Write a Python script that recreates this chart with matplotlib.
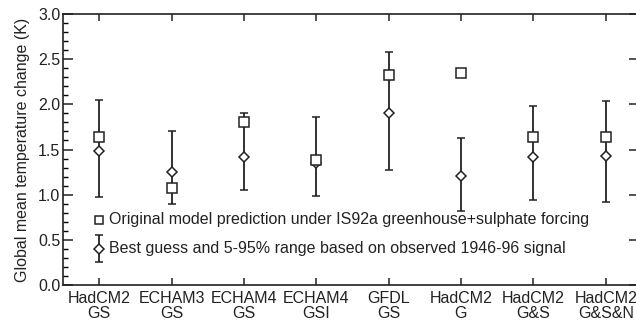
import numpy as np
import matplotlib.pyplot as plt
from matplotlib.ticker import MultipleLocator

plt.rcParams['font.family'] = ['Liberation Sans', 'DejaVu Sans']

# ── Data ──────────────────────────────────────────────────────
models = ['HadCM2\nGS', 'ECHAM3\nGS', 'ECHAM4\nGS', 'ECHAM4\nGSI',
          'GFDL\nGS', 'HadCM2\nG', 'HadCM2\nG&S', 'HadCM2\nG&S&N']
original = [1.64, 1.07, 1.80, 1.38, 2.32, 2.35, 1.64, 1.64]
best = [1.48, 1.25, 1.42, 1.35, 1.90, 1.21, 1.42, 1.43]
low = [0.97, 0.90, 1.05, 0.98, 1.27, 0.82, 0.94, 0.92]
high = [2.05, 1.70, 1.90, 1.86, 2.58, 1.63, 1.98, 2.04]

# legend key (drawn inside the axes, as in the original figure)
leg_x = 0
leg_sq_y = 0.72
leg_dm_y = 0.40
leg_dm_lo, leg_dm_hi = 0.25, 0.55

INK = '#222222'
FS = 11.5

x = np.arange(len(models))
best = np.array(best)
yerr = [best - np.array(low), np.array(high) - best]

fig = plt.figure(figsize=(6.36, 3.21), dpi=100)
ax = fig.add_axes([63 / 636, 1 - 285 / 321, 576 / 636, 271 / 321])

ax.errorbar(x, best, yerr=yerr, fmt='D', ms=5, mfc='white', mec=INK, mew=1.1,
            ecolor=INK, elinewidth=1.3, capsize=3, capthick=1.3, zorder=2)
ax.plot(x, original, 's', ms=7, mfc='white', mec=INK, mew=1.1, zorder=3)

# legend
ax.plot(leg_x, leg_sq_y, 's', ms=6, mfc='white', mec=INK, mew=1.1)
ax.errorbar(leg_x, leg_dm_y, yerr=[[leg_dm_y - leg_dm_lo], [leg_dm_hi - leg_dm_y]],
            fmt='D', ms=5, mfc='white', mec=INK, mew=1.1, ecolor=INK,
            elinewidth=1.3, capsize=3, capthick=1.3)
ax.text(leg_x + 0.14, leg_sq_y, 'Original model prediction under IS92a greenhouse+sulphate forcing',
        va='center', ha='left', fontsize=FS, color=INK)
ax.text(leg_x + 0.14, leg_dm_y, 'Best guess and 5-95% range based on observed 1946-96 signal',
        va='center', ha='left', fontsize=FS, color=INK)

ax.set_xlim(-0.5, 7.46)
ax.set_ylim(0, 3.0)
ax.set_xticks(x)
ax.set_xticklabels(models, fontsize=FS, color=INK, linespacing=1.05)
ax.yaxis.set_major_locator(MultipleLocator(0.5))
ax.yaxis.set_minor_locator(MultipleLocator(0.1))
ax.set_yticklabels([f'{v:.1f}' for v in ax.get_yticks()])
ax.tick_params(axis='y', which='major', direction='in', length=7, width=1.1,
               labelsize=FS, right=True, colors=INK, pad=2)
ax.tick_params(axis='y', which='minor', direction='in', length=3.5, width=1.0,
               right=False)
ax.tick_params(axis='x', which='major', direction='in', length=5, width=1.1,
               top=True, pad=4, colors=INK)
ax.set_ylabel('Global mean temperature change (K)', fontsize=FS, color=INK,
              labelpad=6)
for s in ax.spines.values():
    s.set_linewidth(1.2)
    s.set_color(INK)

fig.savefig('out.png', dpi=100)
